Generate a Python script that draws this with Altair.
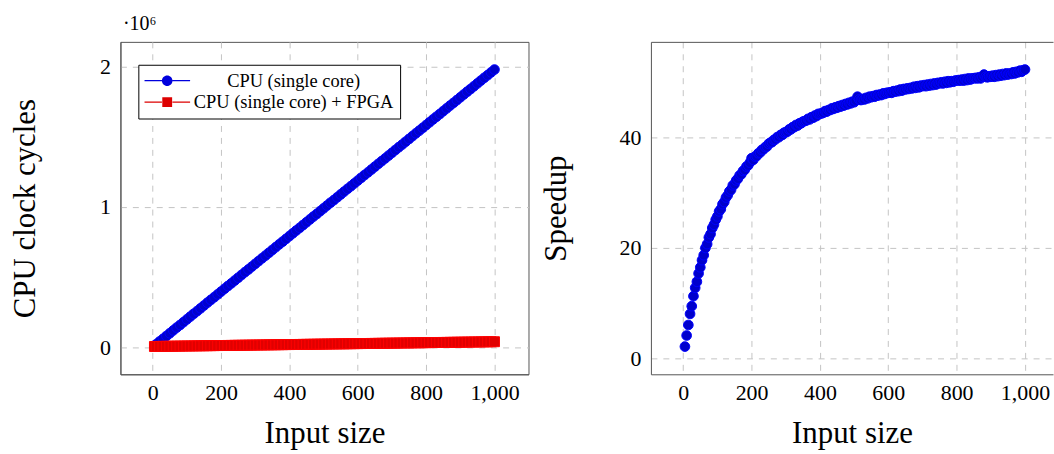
import altair as alt
import pandas as pd

# ---------------- data ----------------
input_left = [5] + list(range(10, 1001, 10))
cpu_k = [10,
         20, 40, 59, 79, 99, 119, 139, 158, 178, 198,
         218, 238, 257, 277, 297, 317, 337, 356, 376, 396,
         416, 436, 455, 475, 495, 515, 535, 554, 574, 594,
         614, 634, 653, 673, 693, 713, 733, 752, 772, 792,
         812, 832, 851, 871, 891, 911, 931, 950, 970, 990,
         1010, 1030, 1049, 1069, 1089, 1109, 1129, 1148, 1168, 1188,
         1208, 1228, 1247, 1267, 1287, 1307, 1327, 1346, 1366, 1386,
         1406, 1426, 1445, 1465, 1485, 1505, 1525, 1544, 1564, 1584,
         1604, 1624, 1643, 1663, 1683, 1703, 1723, 1742, 1762, 1782,
         1802, 1822, 1841, 1861, 1881, 1901, 1921, 1940, 1960, 1980]
fpga_k = [4.5,
          4.9, 5.3, 5.6, 6.0, 6.3, 6.6, 7.0, 7.3, 7.7, 8.0,
          8.3, 8.7, 9.0, 9.4, 9.7, 10.0, 10.4, 10.7, 11.1, 11.4,
          11.7, 12.1, 12.4, 12.8, 13.1, 13.4, 13.8, 14.1, 14.5, 14.8,
          15.1, 15.5, 15.8, 16.2, 16.5, 16.8, 17.2, 17.5, 17.9, 18.2,
          18.5, 18.9, 19.2, 19.6, 19.9, 20.2, 20.6, 20.9, 21.3, 21.6,
          21.9, 22.3, 22.6, 23.0, 23.3, 23.6, 24.0, 24.3, 24.7, 25.0,
          25.3, 25.7, 26.0, 26.4, 26.7, 27.0, 27.4, 27.7, 28.1, 28.4,
          28.7, 29.1, 29.4, 29.8, 30.1, 30.4, 30.8, 31.1, 31.5, 31.8,
          32.1, 32.5, 32.8, 33.2, 33.5, 33.8, 34.2, 34.5, 34.9, 35.2,
          35.5, 35.9, 36.2, 36.6, 36.9, 37.2, 37.6, 37.9, 38.3, 38.6]

input_right = list(range(5, 1001, 5))
speedup = [2.2, 4.2, 6.1, 8.1, 9.5, 11.3, 12.8, 13.9, 15.4, 16.5,
           17.8, 18.7, 20.0, 20.7, 21.9, 22.5, 23.6, 24.2, 25.1, 25.7,
           26.6, 27.0, 27.9, 28.3, 29.1, 29.5, 30.2, 30.5, 31.3, 31.5,
           32.2, 32.5, 33.1, 33.3, 33.9, 34.1, 34.7, 34.9, 35.4, 36.2,
           35.9, 36.5, 36.6, 37.1, 37.2, 37.7, 37.8, 38.2, 38.3, 38.8,
           39.0, 39.1, 39.5, 39.6, 40.0, 40.0, 40.4, 40.4, 40.8, 40.9,
           41.0, 41.4, 41.4, 41.8, 41.8, 42.2, 42.1, 42.5, 42.5, 42.8,
           42.9, 43.0, 43.3, 43.2, 43.6, 43.5, 43.9, 43.8, 44.2, 44.2,
           44.3, 44.4, 44.7, 44.6, 44.9, 44.9, 45.2, 45.1, 45.4, 45.3,
           45.6, 45.5, 45.8, 45.7, 46.0, 45.9, 46.2, 46.1, 46.4, 46.3,
           46.6, 47.3, 46.8, 46.7, 46.9, 46.8, 47.1, 47.0, 47.3, 47.2,
           47.4, 47.3, 47.6, 47.5, 47.7, 47.6, 47.9, 47.8, 48.0, 48.0,
           48.1, 48.0, 48.3, 48.2, 48.4, 48.3, 48.6, 48.4, 48.7, 48.6,
           48.8, 48.7, 48.9, 48.8, 49.1, 48.9, 49.2, 49.0, 49.3, 49.2,
           49.4, 49.2, 49.5, 49.3, 49.6, 49.4, 49.7, 49.5, 49.8, 49.7,
           49.9, 49.7, 50.0, 49.8, 50.1, 49.9, 50.1, 50.0, 50.2, 50.2,
           50.3, 50.2, 50.4, 50.2, 50.5, 50.3, 50.6, 50.4, 50.6, 50.6,
           50.7, 50.6, 50.8, 50.6, 50.9, 51.3, 50.9, 50.8, 51.0, 50.9,
           51.1, 50.9, 51.2, 51.0, 51.3, 51.1, 51.4, 51.2, 51.5, 51.3,
           51.5, 51.4, 51.7, 51.5, 51.8, 51.7, 52.0, 51.8, 52.1, 52.2]

series = ["CPU (single core)", "CPU (single core) + FPGA"]
x_ticks = [0, 200, 400, 600, 800, 1000]
y_left_ticks = [0, 1000000, 2000000]
y_right_ticks = [0, 20, 40]
scale_note = "·10⁶"

# ---------------- tables ----------------
df_cpu = pd.DataFrame({"n": input_left, "cycles": [v * 1000 for v in cpu_k]})
df_fpga = pd.DataFrame({"n": input_left, "cycles": [v * 1000 for v in fpga_k]})
df_leg = pd.DataFrame({"n": [0, 0], "cycles": [0, 0], "series": series})
df_speed = pd.DataFrame({"n": input_right, "speedup": speedup})

FONT = "Liberation Serif"
FRAME = "#555555"

# legend symbols: line with marker in the middle
line_parts = ("M-1,-0.025 L-0.23,-0.025 L-0.23,0.025 L-1,0.025 Z "
              "M0.23,-0.025 L1,-0.025 L1,0.025 L0.23,0.025 Z ")
sym_circle = line_parts + "M-0.23,0 A0.23,0.23 0 1,0 0.23,0 A0.23,0.23 0 1,0 -0.23,0 Z"
sym_square = line_parts + "M-0.215,-0.215 L0.215,-0.215 L0.215,0.215 L-0.215,0.215 Z"

x_scale_left = alt.Scale(domain=[-94.5, 1099.5], nice=False, zero=False)
x_scale_right = alt.Scale(domain=[-94.5, 1082.0], nice=False, zero=False)

x_axis = alt.Axis(values=x_ticks, format=",d", title="Input size")


def top_axis(text, show_domain):
    return alt.Axis(orient="top", labels=False, ticks=False, grid=False,
                    domain=show_domain, domainColor=FRAME, title=text,
                    titleX=2, titleY=-12, titleAngle=0, titleAlign="left",
                    titleBaseline="alphabetic", titleFontSize=20)


y_left = alt.Y("cycles:Q",
               scale=alt.Scale(domain=[-193800, 2177500], nice=False, zero=False),
               axis=alt.Axis(values=y_left_ticks, labelExpr="datum.value / 1000000",
                             title="CPU clock cycles", titleX=-110, titleY=167,
                             titleAngle=270, titleBaseline="top", titleAlign="center"))

legend = alt.Legend(title=None, orient="none", legendX=18, legendY=23, padding=6,
                    strokeColor="black", fillColor="white", cornerRadius=0,
                    labelFont=FONT, labelFontSize=18.5, labelColor="black",
                    labelAlign="center", labelOffset=104, labelLimit=400,
                    symbolSize=2116, clipHeight=20, rowPadding=1.5,
                    symbolStrokeWidth=0, symbolOpacity=1)

blue = alt.Chart(df_cpu).mark_point(
    shape="circle", filled=True, fill="#0000cc", stroke="#0000ff",
    strokeWidth=1, size=95, opacity=1
).encode(x=alt.X("n:Q", scale=x_scale_left, axis=x_axis), y=y_left)

red = alt.Chart(df_fpga).mark_point(
    shape="square", filled=True, fill="#e00000", stroke="#ff0000",
    strokeWidth=1, size=100, opacity=1
).encode(x=alt.X("n:Q", scale=x_scale_left, axis=None), y=y_left)

leg = alt.Chart(df_leg).mark_point(filled=True, size=2116).encode(
    x=alt.X("n:Q", scale=x_scale_left, axis=top_axis(scale_note, False)),
    y=y_left,
    color=alt.Color("series:N", scale=alt.Scale(domain=series, range=["#0000dd", "#dd0000"]),
                    legend=legend),
    shape=alt.Shape("series:N", scale=alt.Scale(domain=series, range=[sym_circle, sym_square]),
                    legend=legend),
).transform_filter("false")

left = alt.layer(blue, red, leg).resolve_axis(x="independent").properties(
    width=410, height=334)

y_right = alt.Y("speedup:Q",
                scale=alt.Scale(domain=[-2.8, 57.2], nice=False, zero=False),
                axis=alt.Axis(values=y_right_ticks, title="Speedup", titleX=-110, titleY=167,
                              titleAngle=270, titleBaseline="top", titleAlign="center"))

pts = alt.Chart(df_speed).mark_point(
    shape="circle", filled=True, fill="#0000cc", stroke="#0000ff",
    strokeWidth=1, size=95, opacity=1
).encode(x=alt.X("n:Q", scale=x_scale_right, axis=x_axis), y=y_right)

top_border = alt.Chart(df_speed).mark_point(opacity=0).encode(
    x=alt.X("n:Q", scale=x_scale_right, axis=top_axis(" ", True)),
    y=y_right)

right = alt.layer(pts, top_border).resolve_axis(x="independent").properties(
    width=404, height=334,
    view=alt.ViewBackground(stroke="transparent"))

chart = alt.hconcat(left, right, spacing=10).properties(
    padding={"left": 9, "top": 12, "right": 0, "bottom": 0}
).configure(font=FONT).configure_axis(
    labelFont=FONT, titleFont=FONT, labelFontSize=22, titleFontSize=31,
    titleFontWeight="normal", labelColor="black", titleColor="black",
    ticks=False, tickSize=0, domain=True, domainColor=FRAME, domainWidth=1,
    grid=True, gridColor="#c4c4c4", gridDash=[6, 6], gridWidth=1,
).configure_axisX(labelPadding=8, titlePadding=16).configure_axisY(
    labelPadding=10).configure_view(stroke=FRAME, strokeWidth=1)

chart.save("out.html", embed_options={"renderer": "svg", "actions": False})
